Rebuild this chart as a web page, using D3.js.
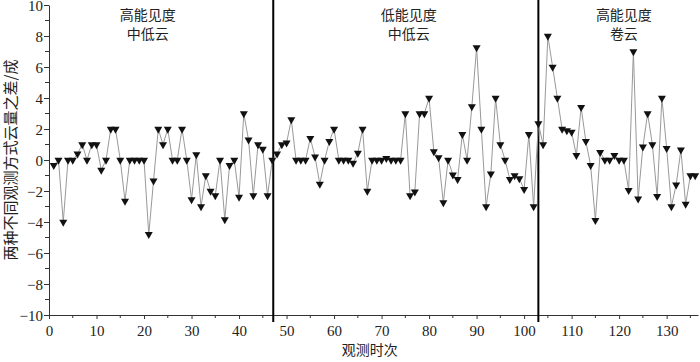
<!DOCTYPE html>
<html>
<head>
<meta charset="utf-8">
<script src="https://cdn.jsdelivr.net/npm/d3@7"></script>
<style>
body { margin: 0; background: #fff; }
svg text { fill: #222; }
.cjk { font-family: "Noto Sans CJK SC", sans-serif; }
</style>
</head>
<body>
<div id="chart"></div>
<script>
// 观测时次 1..136, 两种观测方式云量之差 (成)
var diffs = [
  -0.35, 0, -4, 0, 0, 0.4, 1, 0, 1, 1,
  -0.65, 0, 2, 2, 0, -2.65, 0, 0, 0, 0,
  -4.8, -1.35, 2, 1, 2, 0, 0, 2, 0, -2.55,
  0.35, -3, -1, -2, -2.3, 0, -3.85, -0.35, 0, -2.4,
  3, 1.3, -2.3, 1, 0.7, -2.3, 0, 0.4, 1, 1.1,
  2.6, 0, 0, 0, 1.4, 0.2, -1.55, 0, 1.2, 2,
  0, 0, 0, -0.2, 0.45, 2, -2, 0, 0, 0,
  0.1, 0, 0, 0, 3, -2.3, -2.05, 3, 3, 4,
  0.55, 0.15, -2.75, 0, -0.95, -1.25, 1.65, 0, 3.45, 7.25,
  2, -3, -0.9, 4, 1, 0, -1.25, -1, -1.2, -1.9,
  1.65, -3, 2.35, 1, 8, 6, 4, 2, 1.9, 1.8,
  0.3, 3.4, 1.2, -0.35, -3.9, 0.5, 0, 0, 0.3, 0,
  0, -1.95, 7, -2.5, 0.85, 3, 1, -2.35, 4, 0.75,
  -3, -1.6, 0.65, -2.85, -1, -1
];
var dividers = [47.2, 103];
var groupNames = [["高能见度", "中低云"], ["低能见度", "中低云"], ["高能见度", "卷云"]];
var groupCenters = [20.8, 75.7, 121];
var xTicks = [0, 10, 20, 30, 40, 50, 60, 70, 80, 90, 100, 110, 120, 130];
var yTicks = [-10, -8, -6, -4, -2, 0, 2, 4, 6, 8, 10];
var xLabel = "观测时次";
var yLabel = "两种不同观测方式云量之差/成";

let W = 700, H = 362;
let padL = 49, padT = 5, padR = 698, padB = 315;
let serif = '"Liberation Serif", "DejaVu Serif", serif';

let svg = d3.select('#chart').append('svg')
  .attr('width', W).attr('height', H);

let x = d3.scaleLinear().domain([0, 136.6]).range([padL, padR]);
let y = d3.scaleLinear().domain([-10, 10]).range([padB, padT]);

// axes
let xAxis = d3.axisBottom(x).tickValues(xTicks).tickSize(4).tickSizeOuter(0)
  .tickFormat(d3.format('d'));
let gx = svg.append('g').attr('transform', `translate(0,${padB})`).call(xAxis);
gx.attr('font-family', null).attr('font-size', null);
gx.selectAll('text').attr('dy', '0.9em')
  .style('font-family', serif).style('font-size', '15px');

let yAxis = d3.axisLeft(y).tickValues(yTicks).tickSize(5).tickSizeOuter(0)
  .tickFormat(d => d < 0 ? '\u2212' + Math.abs(d) : d);
let gy = svg.append('g').attr('transform', `translate(${padL},0)`).call(yAxis);
gy.attr('font-family', null).attr('font-size', null);
gy.selectAll('text').attr('x', -6).attr('dy', '0.36em')
  .style('font-family', serif).style('font-size', '15px');

// minor ticks
svg.append('g').selectAll('line')
  .data(d3.range(5, 136, 10))
  .enter().append('line')
  .attr('x1', d => x(d)).attr('x2', d => x(d))
  .attr('y1', padB).attr('y2', padB + 3)
  .attr('stroke', '#333');
svg.append('g').selectAll('line')
  .data(d3.range(-9, 10, 2))
  .enter().append('line')
  .attr('x1', padL - 4).attr('x2', padL)
  .attr('y1', d => y(d)).attr('y2', d => y(d))
  .attr('stroke', '#333');

svg.selectAll('.domain, .tick line').attr('stroke', '#333');

// labels
svg.append('text').attr('class', 'cjk')
  .attr('x', x(67.5)).attr('y', 355)
  .attr('text-anchor', 'middle').attr('font-size', 14)
  .text(xLabel);
svg.append('text').attr('class', 'cjk')
  .attr('transform', `translate(16,${y(0)}) rotate(-90)`)
  .attr('text-anchor', 'middle').attr('font-size', 15)
  .text(yLabel);

// divider lines
svg.selectAll('.divider')
  .data(dividers)
  .enter().append('line')
  .attr('class', 'divider')
  .attr('x1', d => x(d)).attr('x2', d => x(d))
  .attr('y1', 0).attr('y2', padB + 7)
  .attr('stroke', '#000').attr('stroke-width', 2);

// group names
groupNames.forEach(function(lines, i) {
  lines.forEach(function(t, j) {
    svg.append('text').attr('class', 'cjk')
      .attr('x', x(groupCenters[i])).attr('y', 20 + j * 19)
      .attr('text-anchor', 'middle').attr('font-size', 14)
      .text(t);
  });
});

// series
let pts = diffs.map((d, i) => [i + 1, d]);
let line = d3.line().x(d => x(d[0])).y(d => y(d[1]));
svg.append('path')
  .datum(pts)
  .attr('d', line)
  .attr('fill', 'none')
  .attr('stroke', '#999')
  .attr('stroke-width', 1);

let tw = 8, th = 7;
svg.selectAll('.mk')
  .data(pts)
  .enter().append('path')
  .attr('class', 'mk')
  .attr('transform', d => `translate(${x(d[0])},${y(d[1])})`)
  .attr('d', `M${-tw/2},${-th/3}L${tw/2},${-th/3}L0,${2*th/3}Z`)
  .attr('fill', '#111');
</script>
</body>
</html>
